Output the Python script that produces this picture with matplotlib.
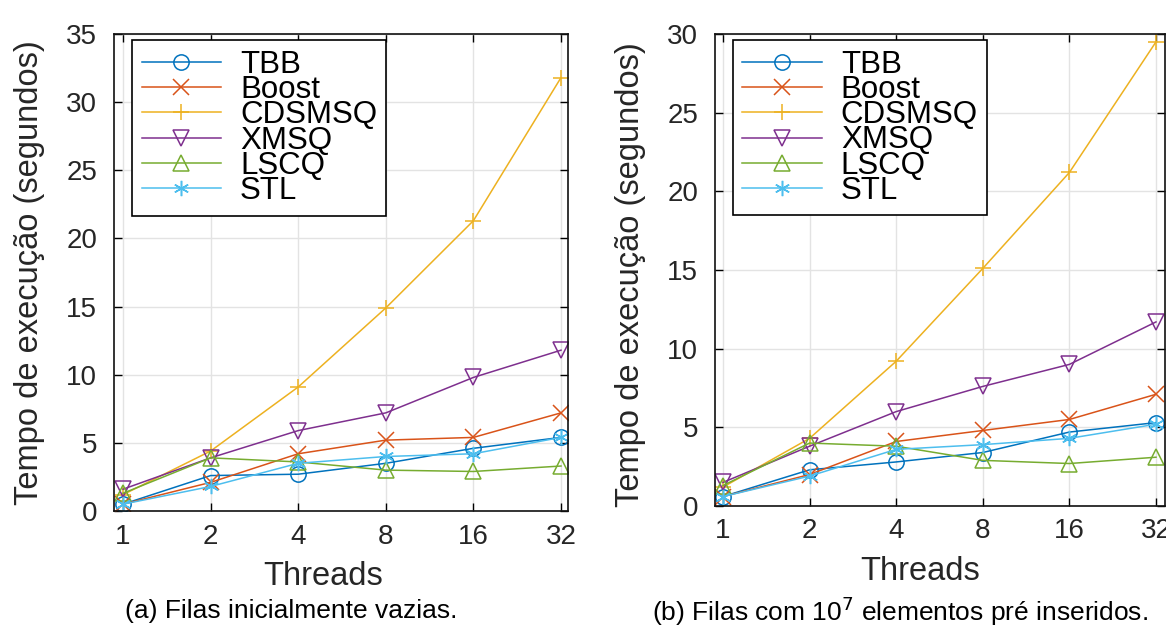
import matplotlib
matplotlib.use("Agg")
import matplotlib.pyplot as plt
from matplotlib.ticker import FixedLocator, FixedFormatter, NullLocator

plt.rcParams["font.family"] = ["Liberation Sans", "DejaVu Sans"]

threads = [1, 2, 4, 8, 16, 32]
thread_labels = ["1", "2", "4", "8", "16", "32"]
names = ["TBB", "Boost", "CDSMSQ", "XMSQ", "LSCQ", "STL"]

# (a) empty queues
tbb_a = [0.5, 2.6, 2.7, 3.5, 4.6, 5.4]
boost_a = [0.5, 2.1, 4.2, 5.2, 5.4, 7.2]
cdsmsq_a = [1.2, 4.4, 9.1, 14.9, 21.3, 31.8]
xmsq_a = [1.6, 3.9, 5.9, 7.2, 9.8, 11.8]
lscq_a = [1.3, 3.9, 3.6, 3.0, 2.9, 3.3]
stl_a = [0.5, 1.8, 3.5, 4.0, 4.2, 5.4]

# (b) 10^7 elements pre-inserted
tbb_b = [0.6, 2.3, 2.8, 3.4, 4.7, 5.3]
boost_b = [0.6, 2.0, 4.1, 4.8, 5.5, 7.1]
cdsmsq_b = [1.2, 4.3, 9.2, 15.1, 21.2, 29.5]
xmsq_b = [1.5, 3.8, 6.0, 7.6, 9.0, 11.7]
lscq_b = [1.3, 4.0, 3.8, 2.9, 2.7, 3.1]
stl_b = [0.6, 1.9, 3.6, 3.9, 4.3, 5.2]

colors = ["#0072BD", "#D95319", "#EDB120", "#7E2F8E", "#77AC30", "#4DBEEE"]
markers = ["o", "x", "+", "v", "^", (6, 2, 0)]


def draw(ax, series, ymax, xlim, xlabel_x):
    for vals, name, col, mk in zip(series, names, colors, markers):
        ax.plot(threads, vals, color=col, marker=mk, markersize=11,
                markerfacecolor="none", markeredgecolor=col,
                markeredgewidth=1.1, linewidth=1.1, label=name)
    ax.set_xscale("log", base=2)
    ax.set_xlim(xlim)
    ax.set_ylim(0, ymax)
    ax.xaxis.set_major_locator(FixedLocator(threads))
    ax.xaxis.set_major_formatter(FixedFormatter(thread_labels))
    ax.xaxis.set_minor_locator(NullLocator())
    ax.set_yticks(range(0, ymax + 1, 5))
    ax.tick_params(direction="in", top=True, right=True, length=6,
                   width=1, labelsize=20, colors="black", labelcolor="#262626")
    ax.tick_params(axis="y", pad=12)
    ax.tick_params(axis="x", pad=9)
    ax.grid(True, color="#e3e3e3", linewidth=1)
    ax.set_axisbelow(True)
    for s in ax.spines.values():
        s.set_linewidth(1.2)
        s.set_color("#111111")
    ax.set_xlabel("Threads", fontsize=23.5, color="#262626")
    ax.xaxis.set_label_coords(xlabel_x, -0.105)
    ax.set_ylabel("Tempo de execução (segundos)", fontsize=23.5, color="#262626")
    leg = ax.legend(loc="upper left", bbox_to_anchor=(0.04, 0.987),
                    borderaxespad=0, fontsize=22.5, frameon=True, fancybox=False,
                    edgecolor="black", framealpha=1, handlelength=2.55,
                    handletextpad=0.6, borderpad=0.3, labelspacing=-0.15)
    leg.get_frame().set_linewidth(1.2)


fig = plt.figure(figsize=(11.66, 6.26), dpi=100)

ax1 = fig.add_axes([114 / 1166, 1 - 511 / 626, 454 / 1166, 477 / 626])
draw(ax1, [tbb_a, boost_a, cdsmsq_a, xmsq_a, lscq_a, stl_a], 35,
     (2 ** -0.103, 2 ** 5.08), 0.46)
ax1.yaxis.set_label_coords(-0.152, 0.5)

ax2 = fig.add_axes([715 / 1166, 1 - 506 / 626, 450 / 1166, 472 / 626])
draw(ax2, [tbb_b, boost_b, cdsmsq_b, xmsq_b, lscq_b, stl_b], 30,
     (2 ** -0.092, 2 ** 5.104), 0.456)
ax2.yaxis.set_label_coords(-0.153, 0.49)

fig.text(291 / 1166, 1 - 611 / 626, "(a) Filas inicialmente vazias.",
         fontsize=19, ha="center", va="center")
fig.text(900 / 1166, 1 - 611 / 626, "(b) Filas com 10$^7$ elementos pré inseridos.",
         fontsize=19, ha="center", va="center")

fig.savefig("out.png", dpi=100)
